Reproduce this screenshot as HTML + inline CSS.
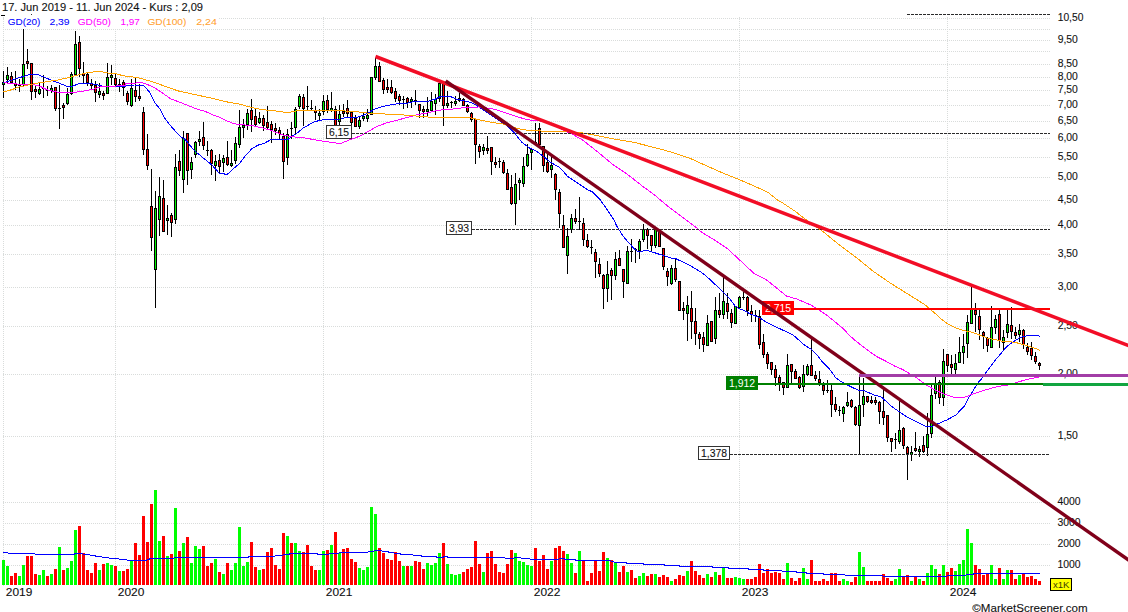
<!DOCTYPE html>
<html><head><meta charset="utf-8"><title>Chart</title>
<style>
html,body{margin:0;padding:0;background:#fff;}
body{width:1128px;height:612px;overflow:hidden;font-family:"Liberation Sans",sans-serif;}
svg{display:block;}
text{font-family:"Liberation Sans",sans-serif;}
.g{stroke:#d9dcdb;stroke-width:1;stroke-dasharray:1 1;fill:none;}
.d{stroke:#2a2a2a;stroke-width:1;stroke-dasharray:3 1;fill:none;}
.ax{font-size:10px;fill:#111;stroke:#111;stroke-width:0.1px;}
.yr{font-size:10.6px;fill:#111;stroke:#111;stroke-width:0.1px;}
.lb{font-size:10px;}
</style></head><body>
<svg width="1128" height="612" viewBox="0 0 1128 612" shape-rendering="crispEdges">
<rect x="0" y="0" width="1128" height="612" fill="#ffffff"/>
<g id="grid">
<path class="g" d="M3 18.5H1050"/>
<path class="g" d="M3 29.5H1050"/>
<path class="g" d="M3 40.5H1050"/>
<path class="g" d="M3 51.5H1050"/>
<path class="g" d="M3 64.5H1050"/>
<path class="g" d="M3 77.5H1050"/>
<path class="g" d="M3 90.5H1050"/>
<path class="g" d="M3 105.5H1050"/>
<path class="g" d="M3 121.5H1050"/>
<path class="g" d="M3 138.5H1050"/>
<path class="g" d="M3 157.5H1050"/>
<path class="g" d="M3 177.5H1050"/>
<path class="g" d="M3 200.5H1050"/>
<path class="g" d="M3 225.5H1050"/>
<path class="g" d="M3 254.5H1050"/>
<path class="g" d="M3 287.5H1050"/>
<path class="g" d="M3 326.5H1050"/>
<path class="g" d="M3 374.5H1050"/>
<path class="g" d="M3 436.5H1050"/>
<path class="g" d="M3 502.5H1050"/>
<path class="g" d="M3 523.5H1050"/>
<path class="g" d="M3 544.5H1050"/>
<path class="g" d="M3 565.5H1050"/>
<path class="g" d="M3.5 17V586"/>
<path class="g" d="M115.5 17V586"/>
<path class="g" d="M323.5 17V586"/>
<path class="g" d="M531.5 17V586"/>
<path class="g" d="M739.5 17V586"/>
<path class="g" d="M947.5 17V586"/>
</g>
<rect x="4" y="15" width="215" height="14" fill="#ffffff"/>
<g shape-rendering="auto">
<text class="ax" x="1057.7" y="21.4" textLength="25.7" lengthAdjust="spacingAndGlyphs">10,50</text>
<text class="ax" x="1057.7" y="43.4" textLength="20.2" lengthAdjust="spacingAndGlyphs">9,50</text>
<text class="ax" x="1057.7" y="67.4" textLength="20.2" lengthAdjust="spacingAndGlyphs">8,50</text>
<text class="ax" x="1057.7" y="80.4" textLength="20.2" lengthAdjust="spacingAndGlyphs">8,00</text>
<text class="ax" x="1057.7" y="93.4" textLength="20.2" lengthAdjust="spacingAndGlyphs">7,50</text>
<text class="ax" x="1057.7" y="108.4" textLength="20.2" lengthAdjust="spacingAndGlyphs">7,00</text>
<text class="ax" x="1057.7" y="124.4" textLength="20.2" lengthAdjust="spacingAndGlyphs">6,50</text>
<text class="ax" x="1057.7" y="141.4" textLength="20.2" lengthAdjust="spacingAndGlyphs">6,00</text>
<text class="ax" x="1057.7" y="160.4" textLength="20.2" lengthAdjust="spacingAndGlyphs">5,50</text>
<text class="ax" x="1057.7" y="180.4" textLength="20.2" lengthAdjust="spacingAndGlyphs">5,00</text>
<text class="ax" x="1057.7" y="203.4" textLength="20.2" lengthAdjust="spacingAndGlyphs">4,50</text>
<text class="ax" x="1057.7" y="228.4" textLength="20.2" lengthAdjust="spacingAndGlyphs">4,00</text>
<text class="ax" x="1057.7" y="257.4" textLength="20.2" lengthAdjust="spacingAndGlyphs">3,50</text>
<text class="ax" x="1057.7" y="290.4" textLength="20.2" lengthAdjust="spacingAndGlyphs">3,00</text>
<text class="ax" x="1057.7" y="329.4" textLength="20.2" lengthAdjust="spacingAndGlyphs">2,50</text>
<text class="ax" x="1057.7" y="377.4" textLength="20.2" lengthAdjust="spacingAndGlyphs">2,00</text>
<text class="ax" x="1057.7" y="439.4" textLength="20.2" lengthAdjust="spacingAndGlyphs">1,50</text>
<text class="ax" x="1057.5" y="505.4" textLength="23.1" lengthAdjust="spacingAndGlyphs">4000</text>
<text class="ax" x="1057.5" y="526.4" textLength="23.1" lengthAdjust="spacingAndGlyphs">3000</text>
<text class="ax" x="1057.5" y="547.4" textLength="23.1" lengthAdjust="spacingAndGlyphs">2000</text>
<text class="ax" x="1057.5" y="568.4" textLength="23.1" lengthAdjust="spacingAndGlyphs">1000</text>
<text class="yr" x="5.8" y="596.4" textLength="26.5" lengthAdjust="spacingAndGlyphs">2019</text>
<text class="yr" x="117.8" y="596.4" textLength="26.5" lengthAdjust="spacingAndGlyphs">2020</text>
<text class="yr" x="325.8" y="596.4" textLength="26.5" lengthAdjust="spacingAndGlyphs">2021</text>
<text class="yr" x="533.8" y="596.4" textLength="26.5" lengthAdjust="spacingAndGlyphs">2022</text>
<text class="yr" x="741.8" y="596.4" textLength="26.5" lengthAdjust="spacingAndGlyphs">2023</text>
<text class="yr" x="949.8" y="596.4" textLength="26.5" lengthAdjust="spacingAndGlyphs">2024</text>
<text x="2" y="11.2" font-size="10.6" fill="#111" stroke="#111" stroke-width="0.1" textLength="201" lengthAdjust="spacingAndGlyphs">17. Jun 2019 - 11. Jun 2024 - Kurs : 2,09</text>
<text x="7.7" y="24.9" font-size="9.6" fill="#0000ff" stroke="#0000ff" stroke-width="0.05" textLength="32.7" lengthAdjust="spacingAndGlyphs">GD(20)</text>
<text x="49.4" y="24.9" font-size="9.6" fill="#0000ff" stroke="#0000ff" stroke-width="0.05" textLength="20.2" lengthAdjust="spacingAndGlyphs">2,39</text>
<text x="77.7" y="24.9" font-size="9.6" fill="#ff00ff" stroke="#ff00ff" stroke-width="0.05" textLength="33.2" lengthAdjust="spacingAndGlyphs">GD(50)</text>
<text x="120.4" y="24.9" font-size="9.6" fill="#ff00ff" stroke="#ff00ff" stroke-width="0.05" textLength="19.4" lengthAdjust="spacingAndGlyphs">1,97</text>
<text x="147.4" y="24.9" font-size="9.6" fill="#ffa030" stroke="#ffa030" stroke-width="0.05" textLength="39" lengthAdjust="spacingAndGlyphs">GD(100)</text>
<text x="196.2" y="24.9" font-size="9.6" fill="#ffa030" stroke="#ffa030" stroke-width="0.05" textLength="20.8" lengthAdjust="spacingAndGlyphs">2,24</text>
<rect x="1050.5" y="578.5" width="21" height="12" fill="#ffff00" stroke="#000" stroke-width="1"/>
<text x="1053" y="588.3" font-size="9.4" fill="#3a3a00" textLength="16.5" lengthAdjust="spacingAndGlyphs">x1K</text>
<text x="972.3" y="612" font-size="10.8" fill="#111" stroke="#111" stroke-width="0.1" textLength="115.3" lengthAdjust="spacingAndGlyphs">©MarketScreener.com</text>
</g>
<g id="vol">
<rect x="2" y="560" width="3" height="25" fill="#00ff00"/>
<rect x="6" y="566" width="3" height="19" fill="#00ff00"/>
<rect x="10" y="576" width="3" height="9" fill="#ff0000"/>
<rect x="14" y="573" width="3" height="12" fill="#ff0000"/>
<rect x="18" y="576" width="3" height="9" fill="#00ff00"/>
<rect x="22" y="565" width="3" height="20" fill="#00ff00"/>
<rect x="26" y="556" width="3" height="29" fill="#ff0000"/>
<rect x="30" y="556" width="3" height="29" fill="#ff0000"/>
<rect x="34" y="574" width="3" height="11" fill="#ff0000"/>
<rect x="38" y="575" width="3" height="10" fill="#00ff00"/>
<rect x="42" y="570" width="3" height="15" fill="#00ff00"/>
<rect x="46" y="576" width="3" height="9" fill="#ff0000"/>
<rect x="50" y="574" width="3" height="11" fill="#00ff00"/>
<rect x="54" y="569" width="3" height="16" fill="#ff0000"/>
<rect x="58" y="547" width="3" height="38" fill="#00ff00"/>
<rect x="62" y="570" width="3" height="15" fill="#ff0000"/>
<rect x="66" y="568" width="3" height="17" fill="#00ff00"/>
<rect x="70" y="561" width="3" height="24" fill="#00ff00"/>
<rect x="74" y="530" width="3" height="55" fill="#00ff00"/>
<rect x="78" y="526" width="3" height="59" fill="#ff0000"/>
<rect x="82" y="553" width="3" height="32" fill="#ff0000"/>
<rect x="86" y="570" width="3" height="15" fill="#ff0000"/>
<rect x="90" y="573" width="3" height="12" fill="#ff0000"/>
<rect x="94" y="563" width="3" height="22" fill="#ff0000"/>
<rect x="98" y="570" width="3" height="15" fill="#00ff00"/>
<rect x="102" y="564" width="3" height="21" fill="#ff0000"/>
<rect x="106" y="563" width="3" height="22" fill="#00ff00"/>
<rect x="110" y="565" width="3" height="20" fill="#00ff00"/>
<rect x="114" y="566" width="3" height="19" fill="#ff0000"/>
<rect x="118" y="571" width="3" height="14" fill="#00ff00"/>
<rect x="122" y="571" width="3" height="14" fill="#ff0000"/>
<rect x="126" y="569" width="3" height="16" fill="#ff0000"/>
<rect x="130" y="560" width="3" height="25" fill="#00ff00"/>
<rect x="134" y="543" width="3" height="42" fill="#ff0000"/>
<rect x="138" y="555" width="3" height="30" fill="#ff0000"/>
<rect x="142" y="516" width="3" height="69" fill="#ff0000"/>
<rect x="146" y="542" width="3" height="43" fill="#ff0000"/>
<rect x="150" y="504" width="3" height="81" fill="#ff0000"/>
<rect x="154" y="490" width="3" height="95" fill="#00ff00"/>
<rect x="158" y="541" width="3" height="44" fill="#00ff00"/>
<rect x="162" y="536" width="3" height="49" fill="#ff0000"/>
<rect x="166" y="556" width="3" height="29" fill="#00ff00"/>
<rect x="170" y="554" width="3" height="31" fill="#ff0000"/>
<rect x="174" y="508" width="3" height="77" fill="#00ff00"/>
<rect x="178" y="551" width="3" height="34" fill="#ff0000"/>
<rect x="182" y="543" width="3" height="42" fill="#00ff00"/>
<rect x="186" y="537" width="3" height="48" fill="#ff0000"/>
<rect x="190" y="563" width="3" height="22" fill="#00ff00"/>
<rect x="194" y="546" width="3" height="39" fill="#00ff00"/>
<rect x="198" y="549" width="3" height="36" fill="#00ff00"/>
<rect x="202" y="546" width="3" height="39" fill="#ff0000"/>
<rect x="206" y="566" width="3" height="19" fill="#ff0000"/>
<rect x="210" y="563" width="3" height="22" fill="#ff0000"/>
<rect x="214" y="559" width="3" height="26" fill="#00ff00"/>
<rect x="218" y="572" width="3" height="13" fill="#ff0000"/>
<rect x="222" y="574" width="3" height="11" fill="#00ff00"/>
<rect x="226" y="563" width="3" height="22" fill="#ff0000"/>
<rect x="230" y="570" width="3" height="15" fill="#00ff00"/>
<rect x="234" y="563" width="3" height="22" fill="#00ff00"/>
<rect x="238" y="527" width="3" height="58" fill="#00ff00"/>
<rect x="242" y="566" width="3" height="19" fill="#00ff00"/>
<rect x="246" y="562" width="3" height="23" fill="#00ff00"/>
<rect x="250" y="542" width="3" height="43" fill="#ff0000"/>
<rect x="254" y="567" width="3" height="18" fill="#ff0000"/>
<rect x="258" y="570" width="3" height="15" fill="#00ff00"/>
<rect x="262" y="569" width="3" height="16" fill="#ff0000"/>
<rect x="266" y="552" width="3" height="33" fill="#ff0000"/>
<rect x="270" y="548" width="3" height="37" fill="#ff0000"/>
<rect x="274" y="565" width="3" height="20" fill="#ff0000"/>
<rect x="278" y="569" width="3" height="16" fill="#ff0000"/>
<rect x="282" y="533" width="3" height="52" fill="#ff0000"/>
<rect x="286" y="536" width="3" height="49" fill="#00ff00"/>
<rect x="290" y="543" width="3" height="42" fill="#ff0000"/>
<rect x="294" y="543" width="3" height="42" fill="#00ff00"/>
<rect x="298" y="551" width="3" height="34" fill="#00ff00"/>
<rect x="302" y="552" width="3" height="33" fill="#ff0000"/>
<rect x="306" y="545" width="3" height="40" fill="#ff0000"/>
<rect x="310" y="566" width="3" height="19" fill="#ff0000"/>
<rect x="314" y="570" width="3" height="15" fill="#ff0000"/>
<rect x="318" y="570" width="3" height="15" fill="#00ff00"/>
<rect x="322" y="551" width="3" height="34" fill="#00ff00"/>
<rect x="326" y="550" width="3" height="35" fill="#ff0000"/>
<rect x="330" y="545" width="3" height="40" fill="#00ff00"/>
<rect x="334" y="532" width="3" height="53" fill="#ff0000"/>
<rect x="338" y="553" width="3" height="32" fill="#00ff00"/>
<rect x="342" y="549" width="3" height="36" fill="#ff0000"/>
<rect x="346" y="548" width="3" height="37" fill="#ff0000"/>
<rect x="350" y="559" width="3" height="26" fill="#ff0000"/>
<rect x="354" y="562" width="3" height="23" fill="#ff0000"/>
<rect x="358" y="568" width="3" height="17" fill="#00ff00"/>
<rect x="362" y="570" width="3" height="15" fill="#00ff00"/>
<rect x="366" y="567" width="3" height="18" fill="#00ff00"/>
<rect x="370" y="507" width="3" height="78" fill="#00ff00"/>
<rect x="374" y="514" width="3" height="71" fill="#00ff00"/>
<rect x="378" y="548" width="3" height="37" fill="#ff0000"/>
<rect x="382" y="553" width="3" height="32" fill="#ff0000"/>
<rect x="386" y="559" width="3" height="26" fill="#ff0000"/>
<rect x="390" y="560" width="3" height="25" fill="#ff0000"/>
<rect x="394" y="552" width="3" height="33" fill="#ff0000"/>
<rect x="398" y="561" width="3" height="24" fill="#ff0000"/>
<rect x="402" y="566" width="3" height="19" fill="#00ff00"/>
<rect x="406" y="566" width="3" height="19" fill="#ff0000"/>
<rect x="410" y="566" width="3" height="19" fill="#00ff00"/>
<rect x="414" y="561" width="3" height="24" fill="#ff0000"/>
<rect x="418" y="562" width="3" height="23" fill="#ff0000"/>
<rect x="422" y="569" width="3" height="16" fill="#ff0000"/>
<rect x="426" y="563" width="3" height="22" fill="#00ff00"/>
<rect x="430" y="565" width="3" height="20" fill="#00ff00"/>
<rect x="434" y="563" width="3" height="22" fill="#00ff00"/>
<rect x="438" y="553" width="3" height="32" fill="#00ff00"/>
<rect x="442" y="543" width="3" height="42" fill="#ff0000"/>
<rect x="446" y="564" width="3" height="21" fill="#00ff00"/>
<rect x="450" y="574" width="3" height="11" fill="#00ff00"/>
<rect x="454" y="575" width="3" height="10" fill="#00ff00"/>
<rect x="458" y="574" width="3" height="11" fill="#00ff00"/>
<rect x="462" y="572" width="3" height="13" fill="#ff0000"/>
<rect x="466" y="569" width="3" height="16" fill="#ff0000"/>
<rect x="470" y="567" width="3" height="18" fill="#ff0000"/>
<rect x="474" y="541" width="3" height="44" fill="#ff0000"/>
<rect x="478" y="564" width="3" height="21" fill="#ff0000"/>
<rect x="482" y="572" width="3" height="13" fill="#00ff00"/>
<rect x="486" y="553" width="3" height="32" fill="#ff0000"/>
<rect x="490" y="551" width="3" height="34" fill="#ff0000"/>
<rect x="494" y="564" width="3" height="21" fill="#ff0000"/>
<rect x="498" y="572" width="3" height="13" fill="#ff0000"/>
<rect x="502" y="573" width="3" height="12" fill="#ff0000"/>
<rect x="506" y="564" width="3" height="21" fill="#ff0000"/>
<rect x="510" y="550" width="3" height="35" fill="#ff0000"/>
<rect x="514" y="553" width="3" height="32" fill="#00ff00"/>
<rect x="518" y="561" width="3" height="24" fill="#00ff00"/>
<rect x="522" y="562" width="3" height="23" fill="#00ff00"/>
<rect x="526" y="565" width="3" height="20" fill="#00ff00"/>
<rect x="530" y="566" width="3" height="19" fill="#00ff00"/>
<rect x="534" y="548" width="3" height="37" fill="#ff0000"/>
<rect x="538" y="561" width="3" height="24" fill="#ff0000"/>
<rect x="542" y="555" width="3" height="30" fill="#ff0000"/>
<rect x="546" y="569" width="3" height="16" fill="#ff0000"/>
<rect x="550" y="561" width="3" height="24" fill="#00ff00"/>
<rect x="554" y="548" width="3" height="37" fill="#ff0000"/>
<rect x="558" y="546" width="3" height="39" fill="#ff0000"/>
<rect x="562" y="551" width="3" height="34" fill="#ff0000"/>
<rect x="566" y="554" width="3" height="31" fill="#00ff00"/>
<rect x="570" y="563" width="3" height="22" fill="#00ff00"/>
<rect x="574" y="573" width="3" height="12" fill="#ff0000"/>
<rect x="578" y="551" width="3" height="34" fill="#00ff00"/>
<rect x="582" y="561" width="3" height="24" fill="#ff0000"/>
<rect x="586" y="581" width="3" height="4" fill="#ff0000"/>
<rect x="590" y="573" width="3" height="12" fill="#ff0000"/>
<rect x="594" y="561" width="3" height="24" fill="#ff0000"/>
<rect x="598" y="571" width="3" height="14" fill="#ff0000"/>
<rect x="602" y="552" width="3" height="33" fill="#ff0000"/>
<rect x="606" y="558" width="3" height="27" fill="#00ff00"/>
<rect x="610" y="560" width="3" height="25" fill="#ff0000"/>
<rect x="614" y="563" width="3" height="22" fill="#00ff00"/>
<rect x="618" y="572" width="3" height="13" fill="#ff0000"/>
<rect x="622" y="566" width="3" height="19" fill="#ff0000"/>
<rect x="626" y="572" width="3" height="13" fill="#00ff00"/>
<rect x="630" y="570" width="3" height="15" fill="#ff0000"/>
<rect x="634" y="578" width="3" height="7" fill="#ff0000"/>
<rect x="638" y="576" width="3" height="9" fill="#00ff00"/>
<rect x="642" y="573" width="3" height="12" fill="#00ff00"/>
<rect x="646" y="576" width="3" height="9" fill="#ff0000"/>
<rect x="650" y="574" width="3" height="11" fill="#ff0000"/>
<rect x="654" y="574" width="3" height="11" fill="#00ff00"/>
<rect x="658" y="577" width="3" height="8" fill="#ff0000"/>
<rect x="662" y="575" width="3" height="10" fill="#ff0000"/>
<rect x="666" y="577" width="3" height="8" fill="#ff0000"/>
<rect x="670" y="581" width="3" height="4" fill="#00ff00"/>
<rect x="674" y="579" width="3" height="6" fill="#ff0000"/>
<rect x="678" y="575" width="3" height="10" fill="#ff0000"/>
<rect x="682" y="576" width="3" height="9" fill="#ff0000"/>
<rect x="686" y="571" width="3" height="14" fill="#00ff00"/>
<rect x="690" y="561" width="3" height="24" fill="#ff0000"/>
<rect x="694" y="571" width="3" height="14" fill="#ff0000"/>
<rect x="698" y="575" width="3" height="10" fill="#ff0000"/>
<rect x="702" y="578" width="3" height="7" fill="#ff0000"/>
<rect x="706" y="574" width="3" height="11" fill="#00ff00"/>
<rect x="710" y="577" width="3" height="8" fill="#ff0000"/>
<rect x="714" y="572" width="3" height="13" fill="#00ff00"/>
<rect x="718" y="575" width="3" height="10" fill="#ff0000"/>
<rect x="722" y="568" width="3" height="17" fill="#00ff00"/>
<rect x="726" y="578" width="3" height="7" fill="#ff0000"/>
<rect x="730" y="578" width="3" height="7" fill="#ff0000"/>
<rect x="734" y="577" width="3" height="8" fill="#00ff00"/>
<rect x="738" y="578" width="3" height="7" fill="#00ff00"/>
<rect x="742" y="579" width="3" height="6" fill="#00ff00"/>
<rect x="746" y="579" width="3" height="6" fill="#ff0000"/>
<rect x="750" y="579" width="3" height="6" fill="#ff0000"/>
<rect x="754" y="577" width="3" height="8" fill="#ff0000"/>
<rect x="758" y="564" width="3" height="21" fill="#ff0000"/>
<rect x="762" y="573" width="3" height="12" fill="#ff0000"/>
<rect x="766" y="569" width="3" height="16" fill="#ff0000"/>
<rect x="770" y="573" width="3" height="12" fill="#ff0000"/>
<rect x="774" y="572" width="3" height="13" fill="#ff0000"/>
<rect x="778" y="573" width="3" height="12" fill="#ff0000"/>
<rect x="782" y="579" width="3" height="6" fill="#ff0000"/>
<rect x="786" y="563" width="3" height="22" fill="#00ff00"/>
<rect x="790" y="578" width="3" height="7" fill="#ff0000"/>
<rect x="794" y="581" width="3" height="4" fill="#ff0000"/>
<rect x="798" y="578" width="3" height="7" fill="#ff0000"/>
<rect x="802" y="568" width="3" height="17" fill="#00ff00"/>
<rect x="806" y="579" width="3" height="6" fill="#00ff00"/>
<rect x="810" y="560" width="3" height="25" fill="#ff0000"/>
<rect x="814" y="581" width="3" height="4" fill="#ff0000"/>
<rect x="818" y="581" width="3" height="4" fill="#ff0000"/>
<rect x="822" y="579" width="3" height="6" fill="#ff0000"/>
<rect x="826" y="581" width="3" height="4" fill="#ff0000"/>
<rect x="830" y="573" width="3" height="12" fill="#ff0000"/>
<rect x="834" y="573" width="3" height="12" fill="#ff0000"/>
<rect x="838" y="581" width="3" height="4" fill="#ff0000"/>
<rect x="842" y="579" width="3" height="6" fill="#00ff00"/>
<rect x="846" y="581" width="3" height="4" fill="#00ff00"/>
<rect x="850" y="582" width="3" height="3" fill="#ff0000"/>
<rect x="854" y="577" width="3" height="8" fill="#ff0000"/>
<rect x="858" y="552" width="3" height="33" fill="#00ff00"/>
<rect x="862" y="567" width="3" height="18" fill="#00ff00"/>
<rect x="866" y="581" width="3" height="4" fill="#ff0000"/>
<rect x="870" y="581" width="3" height="4" fill="#ff0000"/>
<rect x="874" y="581" width="3" height="4" fill="#ff0000"/>
<rect x="878" y="581" width="3" height="4" fill="#ff0000"/>
<rect x="882" y="574" width="3" height="11" fill="#ff0000"/>
<rect x="886" y="578" width="3" height="7" fill="#ff0000"/>
<rect x="890" y="581" width="3" height="4" fill="#ff0000"/>
<rect x="894" y="579" width="3" height="6" fill="#00ff00"/>
<rect x="898" y="569" width="3" height="16" fill="#00ff00"/>
<rect x="902" y="577" width="3" height="8" fill="#ff0000"/>
<rect x="906" y="575" width="3" height="10" fill="#ff0000"/>
<rect x="910" y="581" width="3" height="4" fill="#00ff00"/>
<rect x="914" y="577" width="3" height="8" fill="#ff0000"/>
<rect x="918" y="579" width="3" height="6" fill="#00ff00"/>
<rect x="922" y="581" width="3" height="4" fill="#ff0000"/>
<rect x="926" y="573" width="3" height="12" fill="#00ff00"/>
<rect x="930" y="565" width="3" height="20" fill="#00ff00"/>
<rect x="934" y="569" width="3" height="16" fill="#00ff00"/>
<rect x="938" y="574" width="3" height="11" fill="#ff0000"/>
<rect x="942" y="565" width="3" height="20" fill="#00ff00"/>
<rect x="946" y="572" width="3" height="13" fill="#ff0000"/>
<rect x="950" y="568" width="3" height="17" fill="#ff0000"/>
<rect x="954" y="571" width="3" height="14" fill="#00ff00"/>
<rect x="958" y="564" width="3" height="21" fill="#00ff00"/>
<rect x="962" y="560" width="3" height="25" fill="#00ff00"/>
<rect x="966" y="529" width="3" height="56" fill="#00ff00"/>
<rect x="970" y="543" width="3" height="42" fill="#00ff00"/>
<rect x="974" y="565" width="3" height="20" fill="#ff0000"/>
<rect x="978" y="569" width="3" height="16" fill="#ff0000"/>
<rect x="982" y="575" width="3" height="10" fill="#ff0000"/>
<rect x="986" y="574" width="3" height="11" fill="#ff0000"/>
<rect x="990" y="565" width="3" height="20" fill="#00ff00"/>
<rect x="994" y="579" width="3" height="6" fill="#00ff00"/>
<rect x="998" y="568" width="3" height="17" fill="#ff0000"/>
<rect x="1002" y="579" width="3" height="6" fill="#00ff00"/>
<rect x="1006" y="570" width="3" height="15" fill="#00ff00"/>
<rect x="1010" y="570" width="3" height="15" fill="#ff0000"/>
<rect x="1014" y="579" width="3" height="6" fill="#ff0000"/>
<rect x="1018" y="575" width="3" height="10" fill="#00ff00"/>
<rect x="1022" y="574" width="3" height="11" fill="#ff0000"/>
<rect x="1026" y="577" width="3" height="8" fill="#ff0000"/>
<rect x="1030" y="576" width="3" height="9" fill="#ff0000"/>
<rect x="1034" y="579" width="3" height="6" fill="#ff0000"/>
<rect x="1038" y="581" width="3" height="4" fill="#ff0000"/>
</g>
<polyline points="3.5,552.4 10.0,553.2 33.7,553.2 35.4,554.4 74.0,554.4 75.8,553.2 81.0,553.7 89.3,554.9 96.0,556.1 104.4,557.4 111.2,558.3 119.6,559.1 129.7,560.3 146.5,560.3 149.0,559.1 153.3,558.3 173.5,558.3 176.0,557.4 248.0,557.4 248.8,556.2 275.0,556.2 275.8,555.4 285.0,554.9 293.5,553.2 317.0,553.2 318.0,554.4 328.9,554.4 329.7,553.2 339.0,553.2 339.8,552.4 367.6,552.4 368.4,551.4 373.9,551.4 374.7,550.2 381.5,550.2 382.3,551.4 388.2,551.4 389.0,552.4 393.3,552.4 394.1,553.4 400.0,553.4 400.8,554.4 412.6,554.4 413.5,555.4 421.0,555.4 421.9,556.4 436.2,556.4 437.0,557.4 443.0,557.4 443.8,556.4 447.2,556.4 448.0,557.4 504.4,557.4 505.3,558.4 513.7,558.4 514.5,557.4 520.4,557.4 521.3,558.4 529.7,558.4 530.5,559.3 558.7,559.3 559.6,558.4 563.8,558.4 564.6,559.3 574.7,559.3 575.6,560.3 610.1,560.3 611.0,561.3 613.5,561.3 614.3,562.5 626.1,562.5 627.0,563.5 643.0,563.5 643.8,564.3 664.0,564.3 664.9,565.3 679.2,565.3 680.0,566.4 712.0,566.4 712.9,567.4 728.0,567.4 728.9,568.4 747.8,568.4 748.6,569.2 763.0,569.2 763.8,570.4 781.5,570.4 782.3,571.4 795.8,571.4 796.6,572.4 805.9,572.4 806.7,573.4 822.7,573.4 823.6,574.3 844.6,574.3 845.5,575.5 882.5,575.5 884.2,576.5 946.3,576.5 948.0,575.5 965.7,575.5 966.5,574.3 973.3,574.3 974.1,573.3 1039.8,573.3" fill="none" stroke="#0000ff" stroke-width="1"/>
<g id="candles">
<rect x="3" y="71" width="1" height="27" fill="#000"/><rect x="2" y="82" width="3" height="3" fill="#000"/><rect x="3" y="83" width="1" height="1" fill="#00f400"/>
<rect x="7" y="67" width="1" height="17" fill="#000"/><rect x="6" y="75" width="3" height="5" fill="#000"/><rect x="7" y="76" width="1" height="3" fill="#00f400"/>
<rect x="11" y="72" width="1" height="12" fill="#000"/><rect x="10" y="76" width="3" height="7" fill="#000"/><rect x="11" y="77" width="1" height="5" fill="#ff0000"/>
<rect x="15" y="71" width="1" height="19" fill="#000"/><rect x="14" y="83" width="3" height="3" fill="#000"/><rect x="15" y="84" width="1" height="1" fill="#ff0000"/>
<rect x="19" y="79" width="1" height="13" fill="#000"/><rect x="18" y="85" width="3" height="1" fill="#000"/>
<rect x="23" y="29" width="1" height="57" fill="#000"/><rect x="22" y="64" width="3" height="21" fill="#000"/><rect x="23" y="65" width="1" height="19" fill="#00f400"/>
<rect x="27" y="49" width="1" height="20" fill="#000"/><rect x="26" y="61" width="3" height="3" fill="#000"/><rect x="27" y="62" width="1" height="1" fill="#ff0000"/>
<rect x="31" y="63" width="1" height="37" fill="#000"/><rect x="30" y="63" width="3" height="29" fill="#000"/><rect x="31" y="64" width="1" height="27" fill="#ff0000"/>
<rect x="35" y="86" width="1" height="12" fill="#000"/><rect x="34" y="89" width="3" height="3" fill="#000"/><rect x="35" y="90" width="1" height="1" fill="#ff0000"/>
<rect x="39" y="82" width="1" height="13" fill="#000"/><rect x="38" y="89" width="3" height="5" fill="#000"/><rect x="39" y="90" width="1" height="3" fill="#00f400"/>
<rect x="43" y="75" width="1" height="23" fill="#000"/><rect x="42" y="88" width="3" height="1" fill="#000"/>
<rect x="47" y="86" width="1" height="10" fill="#000"/><rect x="46" y="90" width="3" height="1" fill="#000"/>
<rect x="51" y="85" width="1" height="8" fill="#000"/><rect x="50" y="88" width="3" height="3" fill="#000"/><rect x="51" y="89" width="1" height="1" fill="#00f400"/>
<rect x="55" y="87" width="1" height="24" fill="#000"/><rect x="54" y="87" width="3" height="22" fill="#000"/><rect x="55" y="88" width="1" height="20" fill="#ff0000"/>
<rect x="59" y="85" width="1" height="44" fill="#000"/><rect x="58" y="108" width="3" height="1" fill="#000"/>
<rect x="63" y="103" width="1" height="16" fill="#000"/><rect x="62" y="105" width="3" height="3" fill="#000"/><rect x="63" y="106" width="1" height="1" fill="#ff0000"/>
<rect x="67" y="88" width="1" height="17" fill="#000"/><rect x="66" y="94" width="3" height="10" fill="#000"/><rect x="67" y="95" width="1" height="8" fill="#00f400"/>
<rect x="71" y="72" width="1" height="23" fill="#000"/><rect x="70" y="74" width="3" height="20" fill="#000"/><rect x="71" y="75" width="1" height="18" fill="#00f400"/>
<rect x="75" y="31" width="1" height="45" fill="#000"/><rect x="74" y="44" width="3" height="31" fill="#000"/><rect x="75" y="45" width="1" height="29" fill="#00f400"/>
<rect x="79" y="36" width="1" height="41" fill="#000"/><rect x="78" y="42" width="3" height="27" fill="#000"/><rect x="79" y="43" width="1" height="25" fill="#ff0000"/>
<rect x="83" y="62" width="1" height="21" fill="#000"/><rect x="82" y="73" width="3" height="3" fill="#000"/><rect x="83" y="74" width="1" height="1" fill="#ff0000"/>
<rect x="87" y="72" width="1" height="14" fill="#000"/><rect x="86" y="74" width="3" height="9" fill="#000"/><rect x="87" y="75" width="1" height="7" fill="#ff0000"/>
<rect x="91" y="79" width="1" height="10" fill="#000"/><rect x="90" y="83" width="3" height="3" fill="#000"/><rect x="91" y="84" width="1" height="1" fill="#ff0000"/>
<rect x="95" y="81" width="1" height="21" fill="#000"/><rect x="94" y="85" width="3" height="8" fill="#000"/><rect x="95" y="86" width="1" height="6" fill="#ff0000"/>
<rect x="99" y="83" width="1" height="15" fill="#000"/><rect x="98" y="91" width="3" height="4" fill="#000"/><rect x="99" y="92" width="1" height="2" fill="#00f400"/>
<rect x="103" y="91" width="1" height="9" fill="#000"/><rect x="102" y="93" width="3" height="3" fill="#000"/><rect x="103" y="94" width="1" height="1" fill="#ff0000"/>
<rect x="107" y="63" width="1" height="31" fill="#000"/><rect x="106" y="77" width="3" height="17" fill="#000"/><rect x="107" y="78" width="1" height="15" fill="#00f400"/>
<rect x="111" y="65" width="1" height="20" fill="#000"/><rect x="110" y="75" width="3" height="3" fill="#000"/><rect x="111" y="76" width="1" height="1" fill="#00f400"/>
<rect x="115" y="74" width="1" height="12" fill="#000"/><rect x="114" y="78" width="3" height="7" fill="#000"/><rect x="115" y="79" width="1" height="5" fill="#ff0000"/>
<rect x="119" y="79" width="1" height="13" fill="#000"/><rect x="118" y="84" width="3" height="3" fill="#000"/><rect x="119" y="85" width="1" height="1" fill="#00f400"/>
<rect x="123" y="80" width="1" height="16" fill="#000"/><rect x="122" y="82" width="3" height="6" fill="#000"/><rect x="123" y="83" width="1" height="4" fill="#ff0000"/>
<rect x="127" y="91" width="1" height="14" fill="#000"/><rect x="126" y="93" width="3" height="9" fill="#000"/><rect x="127" y="94" width="1" height="7" fill="#ff0000"/>
<rect x="131" y="79" width="1" height="28" fill="#000"/><rect x="130" y="88" width="3" height="18" fill="#000"/><rect x="131" y="89" width="1" height="16" fill="#00f400"/>
<rect x="135" y="78" width="1" height="24" fill="#000"/><rect x="134" y="90" width="3" height="7" fill="#000"/><rect x="135" y="91" width="1" height="5" fill="#ff0000"/>
<rect x="139" y="84" width="1" height="17" fill="#000"/><rect x="138" y="96" width="3" height="3" fill="#000"/><rect x="139" y="97" width="1" height="1" fill="#ff0000"/>
<rect x="143" y="107" width="1" height="48" fill="#000"/><rect x="142" y="112" width="3" height="38" fill="#000"/><rect x="143" y="113" width="1" height="36" fill="#ff0000"/>
<rect x="147" y="134" width="1" height="36" fill="#000"/><rect x="146" y="149" width="3" height="17" fill="#000"/><rect x="147" y="150" width="1" height="15" fill="#ff0000"/>
<rect x="151" y="169" width="1" height="82" fill="#000"/><rect x="150" y="206" width="3" height="32" fill="#000"/><rect x="151" y="207" width="1" height="30" fill="#ff0000"/>
<rect x="155" y="191" width="1" height="117" fill="#000"/><rect x="154" y="208" width="3" height="62" fill="#000"/><rect x="155" y="209" width="1" height="60" fill="#00f400"/>
<rect x="159" y="177" width="1" height="59" fill="#000"/><rect x="158" y="196" width="3" height="24" fill="#000"/><rect x="159" y="197" width="1" height="22" fill="#00f400"/>
<rect x="163" y="180" width="1" height="52" fill="#000"/><rect x="162" y="198" width="3" height="34" fill="#000"/><rect x="163" y="199" width="1" height="32" fill="#ff0000"/>
<rect x="167" y="205" width="1" height="30" fill="#000"/><rect x="166" y="218" width="3" height="3" fill="#000"/><rect x="167" y="219" width="1" height="1" fill="#00f400"/>
<rect x="171" y="213" width="1" height="24" fill="#000"/><rect x="170" y="215" width="3" height="8" fill="#000"/><rect x="171" y="216" width="1" height="6" fill="#ff0000"/>
<rect x="175" y="154" width="1" height="70" fill="#000"/><rect x="174" y="167" width="3" height="53" fill="#000"/><rect x="175" y="168" width="1" height="51" fill="#00f400"/>
<rect x="179" y="150" width="1" height="26" fill="#000"/><rect x="178" y="161" width="3" height="10" fill="#000"/><rect x="179" y="162" width="1" height="8" fill="#ff0000"/>
<rect x="183" y="131" width="1" height="62" fill="#000"/><rect x="182" y="138" width="3" height="42" fill="#000"/><rect x="183" y="139" width="1" height="40" fill="#00f400"/>
<rect x="187" y="133" width="1" height="52" fill="#000"/><rect x="186" y="133" width="3" height="38" fill="#000"/><rect x="187" y="134" width="1" height="36" fill="#ff0000"/>
<rect x="191" y="157" width="1" height="22" fill="#000"/><rect x="190" y="162" width="3" height="8" fill="#000"/><rect x="191" y="163" width="1" height="6" fill="#00f400"/>
<rect x="195" y="141" width="1" height="17" fill="#000"/><rect x="194" y="142" width="3" height="13" fill="#000"/><rect x="195" y="143" width="1" height="11" fill="#00f400"/>
<rect x="199" y="131" width="1" height="15" fill="#000"/><rect x="198" y="139" width="3" height="3" fill="#000"/><rect x="199" y="140" width="1" height="1" fill="#00f400"/>
<rect x="203" y="122" width="1" height="28" fill="#000"/><rect x="202" y="137" width="3" height="9" fill="#000"/><rect x="203" y="138" width="1" height="7" fill="#ff0000"/>
<rect x="207" y="141" width="1" height="15" fill="#000"/><rect x="206" y="150" width="3" height="1" fill="#000"/>
<rect x="211" y="149" width="1" height="26" fill="#000"/><rect x="210" y="150" width="3" height="14" fill="#000"/><rect x="211" y="151" width="1" height="12" fill="#ff0000"/>
<rect x="215" y="155" width="1" height="26" fill="#000"/><rect x="214" y="161" width="3" height="5" fill="#000"/><rect x="215" y="162" width="1" height="3" fill="#00f400"/>
<rect x="219" y="154" width="1" height="19" fill="#000"/><rect x="218" y="160" width="3" height="7" fill="#000"/><rect x="219" y="161" width="1" height="5" fill="#ff0000"/>
<rect x="223" y="155" width="1" height="17" fill="#000"/><rect x="222" y="158" width="3" height="5" fill="#000"/><rect x="223" y="159" width="1" height="3" fill="#00f400"/>
<rect x="227" y="141" width="1" height="25" fill="#000"/><rect x="226" y="157" width="3" height="8" fill="#000"/><rect x="227" y="158" width="1" height="6" fill="#ff0000"/>
<rect x="231" y="150" width="1" height="17" fill="#000"/><rect x="230" y="163" width="3" height="3" fill="#000"/><rect x="231" y="164" width="1" height="1" fill="#00f400"/>
<rect x="235" y="137" width="1" height="27" fill="#000"/><rect x="234" y="143" width="3" height="18" fill="#000"/><rect x="235" y="144" width="1" height="16" fill="#00f400"/>
<rect x="239" y="110" width="1" height="38" fill="#000"/><rect x="238" y="127" width="3" height="18" fill="#000"/><rect x="239" y="128" width="1" height="16" fill="#00f400"/>
<rect x="243" y="119" width="1" height="19" fill="#000"/><rect x="242" y="125" width="3" height="3" fill="#000"/><rect x="243" y="126" width="1" height="1" fill="#00f400"/>
<rect x="247" y="109" width="1" height="21" fill="#000"/><rect x="246" y="113" width="3" height="12" fill="#000"/><rect x="247" y="114" width="1" height="10" fill="#00f400"/>
<rect x="251" y="99" width="1" height="33" fill="#000"/><rect x="250" y="110" width="3" height="10" fill="#000"/><rect x="251" y="111" width="1" height="8" fill="#ff0000"/>
<rect x="255" y="109" width="1" height="17" fill="#000"/><rect x="254" y="116" width="3" height="9" fill="#000"/><rect x="255" y="117" width="1" height="7" fill="#ff0000"/>
<rect x="259" y="112" width="1" height="12" fill="#000"/><rect x="258" y="118" width="3" height="5" fill="#000"/><rect x="259" y="119" width="1" height="3" fill="#00f400"/>
<rect x="263" y="115" width="1" height="16" fill="#000"/><rect x="262" y="118" width="3" height="8" fill="#000"/><rect x="263" y="119" width="1" height="6" fill="#ff0000"/>
<rect x="267" y="106" width="1" height="23" fill="#000"/><rect x="266" y="122" width="3" height="6" fill="#000"/><rect x="267" y="123" width="1" height="4" fill="#ff0000"/>
<rect x="271" y="121" width="1" height="22" fill="#000"/><rect x="270" y="124" width="3" height="6" fill="#000"/><rect x="271" y="125" width="1" height="4" fill="#ff0000"/>
<rect x="275" y="123" width="1" height="12" fill="#000"/><rect x="274" y="128" width="3" height="3" fill="#000"/><rect x="275" y="129" width="1" height="1" fill="#ff0000"/>
<rect x="279" y="127" width="1" height="12" fill="#000"/><rect x="278" y="130" width="3" height="4" fill="#000"/><rect x="279" y="131" width="1" height="2" fill="#ff0000"/>
<rect x="283" y="133" width="1" height="46" fill="#000"/><rect x="282" y="136" width="3" height="26" fill="#000"/><rect x="283" y="137" width="1" height="24" fill="#ff0000"/>
<rect x="287" y="129" width="1" height="36" fill="#000"/><rect x="286" y="134" width="3" height="24" fill="#000"/><rect x="287" y="135" width="1" height="22" fill="#00f400"/>
<rect x="291" y="122" width="1" height="17" fill="#000"/><rect x="290" y="128" width="3" height="1" fill="#000"/>
<rect x="295" y="107" width="1" height="27" fill="#000"/><rect x="294" y="109" width="3" height="19" fill="#000"/><rect x="295" y="110" width="1" height="17" fill="#00f400"/>
<rect x="299" y="94" width="1" height="15" fill="#000"/><rect x="298" y="96" width="3" height="11" fill="#000"/><rect x="299" y="97" width="1" height="9" fill="#00f400"/>
<rect x="303" y="94" width="1" height="32" fill="#000"/><rect x="302" y="97" width="3" height="12" fill="#000"/><rect x="303" y="98" width="1" height="10" fill="#ff0000"/>
<rect x="307" y="86" width="1" height="24" fill="#000"/><rect x="306" y="106" width="3" height="1" fill="#000"/>
<rect x="311" y="100" width="1" height="10" fill="#000"/><rect x="310" y="108" width="3" height="1" fill="#000"/>
<rect x="315" y="106" width="1" height="14" fill="#000"/><rect x="314" y="110" width="3" height="3" fill="#000"/><rect x="315" y="111" width="1" height="1" fill="#ff0000"/>
<rect x="319" y="109" width="1" height="12" fill="#000"/><rect x="318" y="113" width="3" height="3" fill="#000"/><rect x="319" y="114" width="1" height="1" fill="#00f400"/>
<rect x="323" y="95" width="1" height="20" fill="#000"/><rect x="322" y="101" width="3" height="11" fill="#000"/><rect x="323" y="102" width="1" height="9" fill="#00f400"/>
<rect x="327" y="95" width="1" height="18" fill="#000"/><rect x="326" y="100" width="3" height="10" fill="#000"/><rect x="327" y="101" width="1" height="8" fill="#ff0000"/>
<rect x="331" y="92" width="1" height="20" fill="#000"/><rect x="330" y="108" width="3" height="3" fill="#000"/><rect x="331" y="109" width="1" height="1" fill="#00f400"/>
<rect x="335" y="106" width="1" height="27" fill="#000"/><rect x="334" y="109" width="3" height="21" fill="#000"/><rect x="335" y="110" width="1" height="19" fill="#ff0000"/>
<rect x="339" y="105" width="1" height="23" fill="#000"/><rect x="338" y="114" width="3" height="8" fill="#000"/><rect x="339" y="115" width="1" height="6" fill="#00f400"/>
<rect x="343" y="104" width="1" height="13" fill="#000"/><rect x="342" y="111" width="3" height="3" fill="#000"/><rect x="343" y="112" width="1" height="1" fill="#ff0000"/>
<rect x="347" y="100" width="1" height="18" fill="#000"/><rect x="346" y="108" width="3" height="6" fill="#000"/><rect x="347" y="109" width="1" height="4" fill="#ff0000"/>
<rect x="351" y="112" width="1" height="16" fill="#000"/><rect x="350" y="112" width="3" height="11" fill="#000"/><rect x="351" y="113" width="1" height="9" fill="#ff0000"/>
<rect x="355" y="115" width="1" height="12" fill="#000"/><rect x="354" y="118" width="3" height="9" fill="#000"/><rect x="355" y="119" width="1" height="7" fill="#ff0000"/>
<rect x="359" y="117" width="1" height="12" fill="#000"/><rect x="358" y="120" width="3" height="7" fill="#000"/><rect x="359" y="121" width="1" height="5" fill="#00f400"/>
<rect x="363" y="113" width="1" height="8" fill="#000"/><rect x="362" y="116" width="3" height="3" fill="#000"/><rect x="363" y="117" width="1" height="1" fill="#00f400"/>
<rect x="367" y="109" width="1" height="13" fill="#000"/><rect x="366" y="115" width="3" height="4" fill="#000"/><rect x="367" y="116" width="1" height="2" fill="#00f400"/>
<rect x="371" y="77" width="1" height="38" fill="#000"/><rect x="370" y="77" width="3" height="38" fill="#000"/><rect x="371" y="78" width="1" height="36" fill="#00f400"/>
<rect x="375" y="58" width="1" height="22" fill="#000"/><rect x="374" y="66" width="3" height="12" fill="#000"/><rect x="375" y="67" width="1" height="10" fill="#00f400"/>
<rect x="379" y="62" width="1" height="20" fill="#000"/><rect x="378" y="66" width="3" height="16" fill="#000"/><rect x="379" y="67" width="1" height="14" fill="#ff0000"/>
<rect x="383" y="78" width="1" height="16" fill="#000"/><rect x="382" y="80" width="3" height="10" fill="#000"/><rect x="383" y="81" width="1" height="8" fill="#ff0000"/>
<rect x="387" y="79" width="1" height="14" fill="#000"/><rect x="386" y="87" width="3" height="3" fill="#000"/><rect x="387" y="88" width="1" height="1" fill="#ff0000"/>
<rect x="391" y="80" width="1" height="14" fill="#000"/><rect x="390" y="87" width="3" height="6" fill="#000"/><rect x="391" y="88" width="1" height="4" fill="#ff0000"/>
<rect x="395" y="88" width="1" height="14" fill="#000"/><rect x="394" y="91" width="3" height="8" fill="#000"/><rect x="395" y="92" width="1" height="6" fill="#ff0000"/>
<rect x="399" y="94" width="1" height="11" fill="#000"/><rect x="398" y="96" width="3" height="5" fill="#000"/><rect x="399" y="97" width="1" height="3" fill="#ff0000"/>
<rect x="403" y="96" width="1" height="13" fill="#000"/><rect x="402" y="99" width="3" height="1" fill="#000"/>
<rect x="407" y="97" width="1" height="11" fill="#000"/><rect x="406" y="98" width="3" height="5" fill="#000"/><rect x="407" y="99" width="1" height="3" fill="#ff0000"/>
<rect x="411" y="97" width="1" height="11" fill="#000"/><rect x="410" y="99" width="3" height="3" fill="#000"/><rect x="411" y="100" width="1" height="1" fill="#00f400"/>
<rect x="415" y="90" width="1" height="15" fill="#000"/><rect x="414" y="100" width="3" height="1" fill="#000"/>
<rect x="419" y="104" width="1" height="14" fill="#000"/><rect x="418" y="104" width="3" height="7" fill="#000"/><rect x="419" y="105" width="1" height="5" fill="#ff0000"/>
<rect x="423" y="106" width="1" height="12" fill="#000"/><rect x="422" y="109" width="3" height="3" fill="#000"/><rect x="423" y="110" width="1" height="1" fill="#ff0000"/>
<rect x="427" y="97" width="1" height="19" fill="#000"/><rect x="426" y="109" width="3" height="3" fill="#000"/><rect x="427" y="110" width="1" height="1" fill="#00f400"/>
<rect x="431" y="92" width="1" height="19" fill="#000"/><rect x="430" y="101" width="3" height="10" fill="#000"/><rect x="431" y="102" width="1" height="8" fill="#00f400"/>
<rect x="435" y="94" width="1" height="21" fill="#000"/><rect x="434" y="99" width="3" height="5" fill="#000"/><rect x="435" y="100" width="1" height="3" fill="#00f400"/>
<rect x="439" y="83" width="1" height="19" fill="#000"/><rect x="438" y="83" width="3" height="16" fill="#000"/><rect x="439" y="84" width="1" height="14" fill="#00f400"/>
<rect x="443" y="81" width="1" height="45" fill="#000"/><rect x="442" y="83" width="3" height="23" fill="#000"/><rect x="443" y="84" width="1" height="21" fill="#ff0000"/>
<rect x="447" y="91" width="1" height="17" fill="#000"/><rect x="446" y="103" width="3" height="3" fill="#000"/><rect x="447" y="104" width="1" height="1" fill="#00f400"/>
<rect x="451" y="101" width="1" height="7" fill="#000"/><rect x="450" y="102" width="3" height="1" fill="#000"/>
<rect x="455" y="96" width="1" height="10" fill="#000"/><rect x="454" y="101" width="3" height="3" fill="#000"/><rect x="455" y="102" width="1" height="1" fill="#00f400"/>
<rect x="459" y="93" width="1" height="9" fill="#000"/><rect x="458" y="98" width="3" height="3" fill="#000"/><rect x="459" y="99" width="1" height="1" fill="#00f400"/>
<rect x="463" y="98" width="1" height="8" fill="#000"/><rect x="462" y="99" width="3" height="7" fill="#000"/><rect x="463" y="100" width="1" height="5" fill="#ff0000"/>
<rect x="467" y="104" width="1" height="9" fill="#000"/><rect x="466" y="105" width="3" height="7" fill="#000"/><rect x="467" y="106" width="1" height="5" fill="#ff0000"/>
<rect x="471" y="112" width="1" height="10" fill="#000"/><rect x="470" y="113" width="3" height="7" fill="#000"/><rect x="471" y="114" width="1" height="5" fill="#ff0000"/>
<rect x="475" y="118" width="1" height="46" fill="#000"/><rect x="474" y="119" width="3" height="26" fill="#000"/><rect x="475" y="120" width="1" height="24" fill="#ff0000"/>
<rect x="479" y="144" width="1" height="14" fill="#000"/><rect x="478" y="146" width="3" height="6" fill="#000"/><rect x="479" y="147" width="1" height="4" fill="#ff0000"/>
<rect x="483" y="144" width="1" height="11" fill="#000"/><rect x="482" y="147" width="3" height="4" fill="#000"/><rect x="483" y="148" width="1" height="2" fill="#00f400"/>
<rect x="487" y="136" width="1" height="18" fill="#000"/><rect x="486" y="148" width="3" height="3" fill="#000"/><rect x="487" y="149" width="1" height="1" fill="#ff0000"/>
<rect x="491" y="147" width="1" height="28" fill="#000"/><rect x="490" y="147" width="3" height="15" fill="#000"/><rect x="491" y="148" width="1" height="13" fill="#ff0000"/>
<rect x="495" y="157" width="1" height="11" fill="#000"/><rect x="494" y="162" width="3" height="3" fill="#000"/><rect x="495" y="163" width="1" height="1" fill="#ff0000"/>
<rect x="499" y="158" width="1" height="10" fill="#000"/><rect x="498" y="161" width="3" height="1" fill="#000"/>
<rect x="503" y="160" width="1" height="14" fill="#000"/><rect x="502" y="162" width="3" height="11" fill="#000"/><rect x="503" y="163" width="1" height="9" fill="#ff0000"/>
<rect x="507" y="169" width="1" height="21" fill="#000"/><rect x="506" y="173" width="3" height="17" fill="#000"/><rect x="507" y="174" width="1" height="15" fill="#ff0000"/>
<rect x="511" y="175" width="1" height="30" fill="#000"/><rect x="510" y="187" width="3" height="17" fill="#000"/><rect x="511" y="188" width="1" height="15" fill="#ff0000"/>
<rect x="515" y="173" width="1" height="52" fill="#000"/><rect x="514" y="184" width="3" height="20" fill="#000"/><rect x="515" y="185" width="1" height="18" fill="#00f400"/>
<rect x="519" y="178" width="1" height="22" fill="#000"/><rect x="518" y="180" width="3" height="3" fill="#000"/><rect x="519" y="181" width="1" height="1" fill="#00f400"/>
<rect x="523" y="157" width="1" height="30" fill="#000"/><rect x="522" y="166" width="3" height="18" fill="#000"/><rect x="523" y="167" width="1" height="16" fill="#00f400"/>
<rect x="527" y="144" width="1" height="23" fill="#000"/><rect x="526" y="154" width="3" height="12" fill="#000"/><rect x="527" y="155" width="1" height="10" fill="#00f400"/>
<rect x="531" y="148" width="1" height="22" fill="#000"/><rect x="530" y="149" width="3" height="4" fill="#000"/><rect x="531" y="150" width="1" height="2" fill="#00f400"/>
<rect x="535" y="123" width="1" height="20" fill="#000"/><rect x="534" y="142" width="3" height="1" fill="#000"/>
<rect x="539" y="123" width="1" height="22" fill="#000"/><rect x="538" y="128" width="3" height="17" fill="#000"/><rect x="539" y="129" width="1" height="15" fill="#ff0000"/>
<rect x="543" y="146" width="1" height="26" fill="#000"/><rect x="542" y="146" width="3" height="20" fill="#000"/><rect x="543" y="147" width="1" height="18" fill="#ff0000"/>
<rect x="547" y="154" width="1" height="19" fill="#000"/><rect x="546" y="162" width="3" height="10" fill="#000"/><rect x="547" y="163" width="1" height="8" fill="#ff0000"/>
<rect x="551" y="157" width="1" height="21" fill="#000"/><rect x="550" y="165" width="3" height="5" fill="#000"/><rect x="551" y="166" width="1" height="3" fill="#00f400"/>
<rect x="555" y="173" width="1" height="27" fill="#000"/><rect x="554" y="174" width="3" height="16" fill="#000"/><rect x="555" y="175" width="1" height="14" fill="#ff0000"/>
<rect x="559" y="189" width="1" height="39" fill="#000"/><rect x="558" y="192" width="3" height="22" fill="#000"/><rect x="559" y="193" width="1" height="20" fill="#ff0000"/>
<rect x="563" y="215" width="1" height="33" fill="#000"/><rect x="562" y="225" width="3" height="23" fill="#000"/><rect x="563" y="226" width="1" height="21" fill="#ff0000"/>
<rect x="567" y="228" width="1" height="46" fill="#000"/><rect x="566" y="236" width="3" height="20" fill="#000"/><rect x="567" y="237" width="1" height="18" fill="#00f400"/>
<rect x="571" y="214" width="1" height="19" fill="#000"/><rect x="570" y="218" width="3" height="12" fill="#000"/><rect x="571" y="219" width="1" height="10" fill="#00f400"/>
<rect x="575" y="209" width="1" height="15" fill="#000"/><rect x="574" y="218" width="3" height="4" fill="#000"/><rect x="575" y="219" width="1" height="2" fill="#ff0000"/>
<rect x="579" y="197" width="1" height="33" fill="#000"/><rect x="578" y="221" width="3" height="1" fill="#000"/>
<rect x="583" y="218" width="1" height="28" fill="#000"/><rect x="582" y="223" width="3" height="17" fill="#000"/><rect x="583" y="224" width="1" height="15" fill="#ff0000"/>
<rect x="587" y="234" width="1" height="14" fill="#000"/><rect x="586" y="240" width="3" height="7" fill="#000"/><rect x="587" y="241" width="1" height="5" fill="#ff0000"/>
<rect x="591" y="240" width="1" height="14" fill="#000"/><rect x="590" y="247" width="3" height="1" fill="#000"/>
<rect x="595" y="249" width="1" height="29" fill="#000"/><rect x="594" y="252" width="3" height="10" fill="#000"/><rect x="595" y="253" width="1" height="8" fill="#ff0000"/>
<rect x="599" y="258" width="1" height="19" fill="#000"/><rect x="598" y="264" width="3" height="10" fill="#000"/><rect x="599" y="265" width="1" height="8" fill="#ff0000"/>
<rect x="603" y="274" width="1" height="35" fill="#000"/><rect x="602" y="275" width="3" height="14" fill="#000"/><rect x="603" y="276" width="1" height="12" fill="#ff0000"/>
<rect x="607" y="261" width="1" height="41" fill="#000"/><rect x="606" y="274" width="3" height="15" fill="#000"/><rect x="607" y="275" width="1" height="13" fill="#00f400"/>
<rect x="611" y="268" width="1" height="32" fill="#000"/><rect x="610" y="270" width="3" height="6" fill="#000"/><rect x="611" y="271" width="1" height="4" fill="#ff0000"/>
<rect x="615" y="252" width="1" height="28" fill="#000"/><rect x="614" y="259" width="3" height="17" fill="#000"/><rect x="615" y="260" width="1" height="15" fill="#00f400"/>
<rect x="619" y="250" width="1" height="16" fill="#000"/><rect x="618" y="258" width="3" height="8" fill="#000"/><rect x="619" y="259" width="1" height="6" fill="#ff0000"/>
<rect x="623" y="269" width="1" height="29" fill="#000"/><rect x="622" y="269" width="3" height="13" fill="#000"/><rect x="623" y="270" width="1" height="11" fill="#ff0000"/>
<rect x="627" y="246" width="1" height="38" fill="#000"/><rect x="626" y="251" width="3" height="33" fill="#000"/><rect x="627" y="252" width="1" height="31" fill="#00f400"/>
<rect x="631" y="239" width="1" height="23" fill="#000"/><rect x="630" y="251" width="3" height="1" fill="#000"/>
<rect x="635" y="248" width="1" height="15" fill="#000"/><rect x="634" y="249" width="3" height="1" fill="#000"/>
<rect x="639" y="239" width="1" height="20" fill="#000"/><rect x="638" y="241" width="3" height="10" fill="#000"/><rect x="639" y="242" width="1" height="8" fill="#00f400"/>
<rect x="643" y="224" width="1" height="18" fill="#000"/><rect x="642" y="229" width="3" height="11" fill="#000"/><rect x="643" y="230" width="1" height="9" fill="#00f400"/>
<rect x="647" y="228" width="1" height="21" fill="#000"/><rect x="646" y="229" width="3" height="7" fill="#000"/><rect x="647" y="230" width="1" height="5" fill="#ff0000"/>
<rect x="651" y="235" width="1" height="17" fill="#000"/><rect x="650" y="235" width="3" height="11" fill="#000"/><rect x="651" y="236" width="1" height="9" fill="#ff0000"/>
<rect x="655" y="228" width="1" height="20" fill="#000"/><rect x="654" y="229" width="3" height="17" fill="#000"/><rect x="655" y="230" width="1" height="15" fill="#00f400"/>
<rect x="659" y="229" width="1" height="18" fill="#000"/><rect x="658" y="231" width="3" height="16" fill="#000"/><rect x="659" y="232" width="1" height="14" fill="#ff0000"/>
<rect x="663" y="248" width="1" height="22" fill="#000"/><rect x="662" y="248" width="3" height="19" fill="#000"/><rect x="663" y="249" width="1" height="17" fill="#ff0000"/>
<rect x="667" y="268" width="1" height="18" fill="#000"/><rect x="666" y="271" width="3" height="6" fill="#000"/><rect x="667" y="272" width="1" height="4" fill="#ff0000"/>
<rect x="671" y="265" width="1" height="20" fill="#000"/><rect x="670" y="268" width="3" height="16" fill="#000"/><rect x="671" y="269" width="1" height="14" fill="#00f400"/>
<rect x="675" y="259" width="1" height="23" fill="#000"/><rect x="674" y="268" width="3" height="12" fill="#000"/><rect x="675" y="269" width="1" height="10" fill="#ff0000"/>
<rect x="679" y="281" width="1" height="30" fill="#000"/><rect x="678" y="281" width="3" height="30" fill="#000"/><rect x="679" y="282" width="1" height="28" fill="#ff0000"/>
<rect x="683" y="302" width="1" height="18" fill="#000"/><rect x="682" y="308" width="3" height="3" fill="#000"/><rect x="683" y="309" width="1" height="1" fill="#ff0000"/>
<rect x="687" y="296" width="1" height="45" fill="#000"/><rect x="686" y="305" width="3" height="9" fill="#000"/><rect x="687" y="306" width="1" height="7" fill="#00f400"/>
<rect x="691" y="291" width="1" height="48" fill="#000"/><rect x="690" y="308" width="3" height="14" fill="#000"/><rect x="691" y="309" width="1" height="12" fill="#ff0000"/>
<rect x="695" y="308" width="1" height="37" fill="#000"/><rect x="694" y="321" width="3" height="13" fill="#000"/><rect x="695" y="322" width="1" height="11" fill="#ff0000"/>
<rect x="699" y="332" width="1" height="17" fill="#000"/><rect x="698" y="334" width="3" height="5" fill="#000"/><rect x="699" y="335" width="1" height="3" fill="#ff0000"/>
<rect x="703" y="332" width="1" height="20" fill="#000"/><rect x="702" y="337" width="3" height="8" fill="#000"/><rect x="703" y="338" width="1" height="6" fill="#ff0000"/>
<rect x="707" y="315" width="1" height="31" fill="#000"/><rect x="706" y="323" width="3" height="23" fill="#000"/><rect x="707" y="324" width="1" height="21" fill="#00f400"/>
<rect x="711" y="321" width="1" height="21" fill="#000"/><rect x="710" y="321" width="3" height="21" fill="#000"/><rect x="711" y="322" width="1" height="19" fill="#ff0000"/>
<rect x="715" y="297" width="1" height="47" fill="#000"/><rect x="714" y="310" width="3" height="29" fill="#000"/><rect x="715" y="311" width="1" height="27" fill="#00f400"/>
<rect x="719" y="293" width="1" height="25" fill="#000"/><rect x="718" y="310" width="3" height="5" fill="#000"/><rect x="719" y="311" width="1" height="3" fill="#ff0000"/>
<rect x="723" y="276" width="1" height="43" fill="#000"/><rect x="722" y="301" width="3" height="14" fill="#000"/><rect x="723" y="302" width="1" height="12" fill="#00f400"/>
<rect x="727" y="293" width="1" height="26" fill="#000"/><rect x="726" y="303" width="3" height="9" fill="#000"/><rect x="727" y="304" width="1" height="7" fill="#ff0000"/>
<rect x="731" y="309" width="1" height="19" fill="#000"/><rect x="730" y="313" width="3" height="10" fill="#000"/><rect x="731" y="314" width="1" height="8" fill="#ff0000"/>
<rect x="735" y="306" width="1" height="18" fill="#000"/><rect x="734" y="306" width="3" height="18" fill="#000"/><rect x="735" y="307" width="1" height="16" fill="#00f400"/>
<rect x="739" y="296" width="1" height="12" fill="#000"/><rect x="738" y="297" width="3" height="11" fill="#000"/><rect x="739" y="298" width="1" height="9" fill="#00f400"/>
<rect x="743" y="292" width="1" height="8" fill="#000"/><rect x="742" y="297" width="3" height="1" fill="#000"/>
<rect x="747" y="296" width="1" height="20" fill="#000"/><rect x="746" y="297" width="3" height="14" fill="#000"/><rect x="747" y="298" width="1" height="12" fill="#ff0000"/>
<rect x="751" y="305" width="1" height="17" fill="#000"/><rect x="750" y="311" width="3" height="4" fill="#000"/><rect x="751" y="312" width="1" height="2" fill="#ff0000"/>
<rect x="755" y="310" width="1" height="12" fill="#000"/><rect x="754" y="315" width="3" height="1" fill="#000"/>
<rect x="759" y="310" width="1" height="39" fill="#000"/><rect x="758" y="316" width="3" height="29" fill="#000"/><rect x="759" y="317" width="1" height="27" fill="#ff0000"/>
<rect x="763" y="334" width="1" height="24" fill="#000"/><rect x="762" y="342" width="3" height="13" fill="#000"/><rect x="763" y="343" width="1" height="11" fill="#ff0000"/>
<rect x="767" y="352" width="1" height="17" fill="#000"/><rect x="766" y="354" width="3" height="10" fill="#000"/><rect x="767" y="355" width="1" height="8" fill="#ff0000"/>
<rect x="771" y="362" width="1" height="13" fill="#000"/><rect x="770" y="362" width="3" height="8" fill="#000"/><rect x="771" y="363" width="1" height="6" fill="#ff0000"/>
<rect x="775" y="365" width="1" height="21" fill="#000"/><rect x="774" y="369" width="3" height="9" fill="#000"/><rect x="775" y="370" width="1" height="7" fill="#ff0000"/>
<rect x="779" y="375" width="1" height="16" fill="#000"/><rect x="778" y="377" width="3" height="6" fill="#000"/><rect x="779" y="378" width="1" height="4" fill="#ff0000"/>
<rect x="783" y="382" width="1" height="13" fill="#000"/><rect x="782" y="382" width="3" height="6" fill="#000"/><rect x="783" y="383" width="1" height="4" fill="#ff0000"/>
<rect x="787" y="354" width="1" height="34" fill="#000"/><rect x="786" y="365" width="3" height="23" fill="#000"/><rect x="787" y="366" width="1" height="21" fill="#00f400"/>
<rect x="791" y="364" width="1" height="19" fill="#000"/><rect x="790" y="364" width="3" height="8" fill="#000"/><rect x="791" y="365" width="1" height="6" fill="#ff0000"/>
<rect x="795" y="369" width="1" height="10" fill="#000"/><rect x="794" y="371" width="3" height="8" fill="#000"/><rect x="795" y="372" width="1" height="6" fill="#ff0000"/>
<rect x="799" y="376" width="1" height="13" fill="#000"/><rect x="798" y="377" width="3" height="11" fill="#000"/><rect x="799" y="378" width="1" height="9" fill="#ff0000"/>
<rect x="803" y="365" width="1" height="27" fill="#000"/><rect x="802" y="374" width="3" height="13" fill="#000"/><rect x="803" y="375" width="1" height="11" fill="#00f400"/>
<rect x="807" y="364" width="1" height="12" fill="#000"/><rect x="806" y="366" width="3" height="9" fill="#000"/><rect x="807" y="367" width="1" height="7" fill="#00f400"/>
<rect x="811" y="339" width="1" height="37" fill="#000"/><rect x="810" y="365" width="3" height="11" fill="#000"/><rect x="811" y="366" width="1" height="9" fill="#ff0000"/>
<rect x="815" y="371" width="1" height="10" fill="#000"/><rect x="814" y="375" width="3" height="4" fill="#000"/><rect x="815" y="376" width="1" height="2" fill="#ff0000"/>
<rect x="819" y="371" width="1" height="15" fill="#000"/><rect x="818" y="379" width="3" height="4" fill="#000"/><rect x="819" y="380" width="1" height="2" fill="#ff0000"/>
<rect x="823" y="382" width="1" height="13" fill="#000"/><rect x="822" y="385" width="3" height="6" fill="#000"/><rect x="823" y="386" width="1" height="4" fill="#ff0000"/>
<rect x="827" y="380" width="1" height="13" fill="#000"/><rect x="826" y="390" width="3" height="1" fill="#000"/>
<rect x="831" y="385" width="1" height="32" fill="#000"/><rect x="830" y="390" width="3" height="15" fill="#000"/><rect x="831" y="391" width="1" height="13" fill="#ff0000"/>
<rect x="835" y="397" width="1" height="15" fill="#000"/><rect x="834" y="404" width="3" height="6" fill="#000"/><rect x="835" y="405" width="1" height="4" fill="#ff0000"/>
<rect x="839" y="406" width="1" height="10" fill="#000"/><rect x="838" y="410" width="3" height="1" fill="#000"/>
<rect x="843" y="406" width="1" height="16" fill="#000"/><rect x="842" y="407" width="3" height="7" fill="#000"/><rect x="843" y="408" width="1" height="5" fill="#00f400"/>
<rect x="847" y="392" width="1" height="15" fill="#000"/><rect x="846" y="402" width="3" height="4" fill="#000"/><rect x="847" y="403" width="1" height="2" fill="#00f400"/>
<rect x="851" y="399" width="1" height="9" fill="#000"/><rect x="850" y="400" width="3" height="7" fill="#000"/><rect x="851" y="401" width="1" height="5" fill="#ff0000"/>
<rect x="855" y="406" width="1" height="20" fill="#000"/><rect x="854" y="407" width="3" height="18" fill="#000"/><rect x="855" y="408" width="1" height="16" fill="#ff0000"/>
<rect x="859" y="374" width="1" height="80" fill="#000"/><rect x="858" y="405" width="3" height="21" fill="#000"/><rect x="859" y="406" width="1" height="19" fill="#00f400"/>
<rect x="863" y="378" width="1" height="39" fill="#000"/><rect x="862" y="396" width="3" height="9" fill="#000"/><rect x="863" y="397" width="1" height="7" fill="#00f400"/>
<rect x="867" y="396" width="1" height="7" fill="#000"/><rect x="866" y="396" width="3" height="6" fill="#000"/><rect x="867" y="397" width="1" height="4" fill="#ff0000"/>
<rect x="871" y="396" width="1" height="8" fill="#000"/><rect x="870" y="400" width="3" height="3" fill="#000"/><rect x="871" y="401" width="1" height="1" fill="#ff0000"/>
<rect x="875" y="397" width="1" height="8" fill="#000"/><rect x="874" y="400" width="3" height="3" fill="#000"/><rect x="875" y="401" width="1" height="1" fill="#ff0000"/>
<rect x="879" y="401" width="1" height="23" fill="#000"/><rect x="878" y="402" width="3" height="10" fill="#000"/><rect x="879" y="403" width="1" height="8" fill="#ff0000"/>
<rect x="883" y="389" width="1" height="36" fill="#000"/><rect x="882" y="411" width="3" height="7" fill="#000"/><rect x="883" y="412" width="1" height="5" fill="#ff0000"/>
<rect x="887" y="415" width="1" height="27" fill="#000"/><rect x="886" y="415" width="3" height="23" fill="#000"/><rect x="887" y="416" width="1" height="21" fill="#ff0000"/>
<rect x="891" y="438" width="1" height="14" fill="#000"/><rect x="890" y="438" width="3" height="4" fill="#000"/><rect x="891" y="439" width="1" height="2" fill="#ff0000"/>
<rect x="895" y="433" width="1" height="16" fill="#000"/><rect x="894" y="439" width="3" height="1" fill="#000"/>
<rect x="899" y="398" width="1" height="46" fill="#000"/><rect x="898" y="430" width="3" height="12" fill="#000"/><rect x="899" y="431" width="1" height="10" fill="#00f400"/>
<rect x="903" y="427" width="1" height="22" fill="#000"/><rect x="902" y="428" width="3" height="18" fill="#000"/><rect x="903" y="429" width="1" height="16" fill="#ff0000"/>
<rect x="907" y="446" width="1" height="34" fill="#000"/><rect x="906" y="447" width="3" height="7" fill="#000"/><rect x="907" y="448" width="1" height="5" fill="#ff0000"/>
<rect x="911" y="446" width="1" height="15" fill="#000"/><rect x="910" y="452" width="3" height="3" fill="#000"/><rect x="911" y="453" width="1" height="1" fill="#00f400"/>
<rect x="915" y="432" width="1" height="20" fill="#000"/><rect x="914" y="448" width="3" height="3" fill="#000"/><rect x="915" y="449" width="1" height="1" fill="#ff0000"/>
<rect x="919" y="446" width="1" height="11" fill="#000"/><rect x="918" y="449" width="3" height="3" fill="#000"/><rect x="919" y="450" width="1" height="1" fill="#00f400"/>
<rect x="923" y="436" width="1" height="17" fill="#000"/><rect x="922" y="445" width="3" height="7" fill="#000"/><rect x="923" y="446" width="1" height="5" fill="#ff0000"/>
<rect x="927" y="413" width="1" height="43" fill="#000"/><rect x="926" y="434" width="3" height="14" fill="#000"/><rect x="927" y="435" width="1" height="12" fill="#00f400"/>
<rect x="931" y="385" width="1" height="53" fill="#000"/><rect x="930" y="395" width="3" height="39" fill="#000"/><rect x="931" y="396" width="1" height="37" fill="#00f400"/>
<rect x="935" y="377" width="1" height="22" fill="#000"/><rect x="934" y="384" width="3" height="10" fill="#000"/><rect x="935" y="385" width="1" height="8" fill="#00f400"/>
<rect x="939" y="380" width="1" height="24" fill="#000"/><rect x="938" y="382" width="3" height="16" fill="#000"/><rect x="939" y="383" width="1" height="14" fill="#ff0000"/>
<rect x="943" y="349" width="1" height="57" fill="#000"/><rect x="942" y="361" width="3" height="37" fill="#000"/><rect x="943" y="362" width="1" height="35" fill="#00f400"/>
<rect x="947" y="354" width="1" height="18" fill="#000"/><rect x="946" y="354" width="3" height="12" fill="#000"/><rect x="947" y="355" width="1" height="10" fill="#ff0000"/>
<rect x="951" y="355" width="1" height="19" fill="#000"/><rect x="950" y="364" width="3" height="4" fill="#000"/><rect x="951" y="365" width="1" height="2" fill="#ff0000"/>
<rect x="955" y="354" width="1" height="20" fill="#000"/><rect x="954" y="363" width="3" height="7" fill="#000"/><rect x="955" y="364" width="1" height="5" fill="#00f400"/>
<rect x="959" y="337" width="1" height="26" fill="#000"/><rect x="958" y="352" width="3" height="11" fill="#000"/><rect x="959" y="353" width="1" height="9" fill="#00f400"/>
<rect x="963" y="334" width="1" height="30" fill="#000"/><rect x="962" y="346" width="3" height="7" fill="#000"/><rect x="963" y="347" width="1" height="5" fill="#00f400"/>
<rect x="967" y="315" width="1" height="43" fill="#000"/><rect x="966" y="322" width="3" height="22" fill="#000"/><rect x="967" y="323" width="1" height="20" fill="#00f400"/>
<rect x="971" y="287" width="1" height="37" fill="#000"/><rect x="970" y="309" width="3" height="15" fill="#000"/><rect x="971" y="310" width="1" height="13" fill="#00f400"/>
<rect x="975" y="303" width="1" height="29" fill="#000"/><rect x="974" y="310" width="3" height="5" fill="#000"/><rect x="975" y="311" width="1" height="3" fill="#ff0000"/>
<rect x="979" y="310" width="1" height="30" fill="#000"/><rect x="978" y="316" width="3" height="14" fill="#000"/><rect x="979" y="317" width="1" height="12" fill="#ff0000"/>
<rect x="983" y="331" width="1" height="18" fill="#000"/><rect x="982" y="332" width="3" height="4" fill="#000"/><rect x="983" y="333" width="1" height="2" fill="#ff0000"/>
<rect x="987" y="337" width="1" height="15" fill="#000"/><rect x="986" y="338" width="3" height="8" fill="#000"/><rect x="987" y="339" width="1" height="6" fill="#ff0000"/>
<rect x="991" y="306" width="1" height="42" fill="#000"/><rect x="990" y="327" width="3" height="21" fill="#000"/><rect x="991" y="328" width="1" height="19" fill="#00f400"/>
<rect x="995" y="315" width="1" height="19" fill="#000"/><rect x="994" y="319" width="3" height="9" fill="#000"/><rect x="995" y="320" width="1" height="7" fill="#00f400"/>
<rect x="999" y="310" width="1" height="38" fill="#000"/><rect x="998" y="314" width="3" height="27" fill="#000"/><rect x="999" y="315" width="1" height="25" fill="#ff0000"/>
<rect x="1003" y="330" width="1" height="20" fill="#000"/><rect x="1002" y="337" width="3" height="6" fill="#000"/><rect x="1003" y="338" width="1" height="4" fill="#00f400"/>
<rect x="1007" y="310" width="1" height="28" fill="#000"/><rect x="1006" y="324" width="3" height="9" fill="#000"/><rect x="1007" y="325" width="1" height="7" fill="#00f400"/>
<rect x="1011" y="307" width="1" height="32" fill="#000"/><rect x="1010" y="325" width="3" height="7" fill="#000"/><rect x="1011" y="326" width="1" height="5" fill="#ff0000"/>
<rect x="1015" y="327" width="1" height="12" fill="#000"/><rect x="1014" y="332" width="3" height="4" fill="#000"/><rect x="1015" y="333" width="1" height="2" fill="#ff0000"/>
<rect x="1019" y="324" width="1" height="18" fill="#000"/><rect x="1018" y="330" width="3" height="5" fill="#000"/><rect x="1019" y="331" width="1" height="3" fill="#00f400"/>
<rect x="1023" y="329" width="1" height="20" fill="#000"/><rect x="1022" y="330" width="3" height="15" fill="#000"/><rect x="1023" y="331" width="1" height="13" fill="#ff0000"/>
<rect x="1027" y="343" width="1" height="12" fill="#000"/><rect x="1026" y="347" width="3" height="5" fill="#000"/><rect x="1027" y="348" width="1" height="3" fill="#ff0000"/>
<rect x="1031" y="342" width="1" height="18" fill="#000"/><rect x="1030" y="348" width="3" height="8" fill="#000"/><rect x="1031" y="349" width="1" height="6" fill="#ff0000"/>
<rect x="1035" y="352" width="1" height="12" fill="#000"/><rect x="1034" y="356" width="3" height="6" fill="#000"/><rect x="1035" y="357" width="1" height="4" fill="#ff0000"/>
<rect x="1039" y="362" width="1" height="8" fill="#000"/><rect x="1038" y="363" width="3" height="3" fill="#000"/><rect x="1039" y="364" width="1" height="1" fill="#ff0000"/>
</g>
<polyline points="3.5,82.8 11.7,80.1 23.4,76.4 30.9,74.3 37.2,74.3 43.6,76.9 51.0,80.1 59.6,83.3 67.0,86.3 72.3,86.3 79.8,83.3 87.2,83.3 95.7,84.4 102.0,86.0 126.0,86.0 134.5,85.0 140.9,85.0 144.0,86.0 149.4,91.9 154.7,102.6 160.0,108.9 164.3,117.4 170.4,125.6 180.0,136.3 185.3,139.5 193.8,150.1 203.4,158.1 211.9,165.0 219.4,173.3 227.3,174.4 232.1,169.8 238.5,164.5 240.0,162.8 245.3,155.9 251.7,148.9 258.0,145.2 264.5,143.1 270.9,139.7 287.9,139.4 293.2,135.6 295.3,134.5 303.8,127.6 314.5,121.7 325.0,119.3 341.0,119.0 346.4,117.4 356.4,117.3 360.6,116.3 366.0,114.1 371.3,111.1 376.6,108.3 387.2,105.4 397.9,103.7 408.5,103.0 413.8,101.6 426.6,101.6 435.1,99.2 440.4,96.6 450.0,96.3 456.4,99.2 462.8,100.5 466.4,101.2 472.8,103.3 479.1,107.0 487.7,112.9 496.2,118.7 504.7,124.0 511.0,129.4 515.3,133.6 517.4,136.8 521.7,142.1 526.0,145.3 530.2,148.5 535.5,150.4 543.0,156.0 550.4,162.3 560.0,167.7 567.4,176.2 580.0,184.7 588.2,190.0 592.0,191.6 600.4,200.1 606.8,209.1 613.2,218.7 617.4,227.2 622.8,235.7 628.0,242.1 634.5,249.0 637.7,251.5 642.0,251.5 645.0,250.4 647.2,250.4 651.5,251.7 660.0,254.5 666.4,256.5 671.7,258.3 676.0,258.8 680.0,260.7 690.0,265.5 700.0,271.5 705.1,275.0 714.7,284.0 723.2,292.0 729.6,298.4 734.9,305.9 739.1,308.5 744.5,310.6 750.9,314.4 758.3,317.0 765.7,321.8 776.4,327.1 790.0,333.5 793.2,335.0 803.8,344.6 811.3,349.4 817.7,355.7 822.0,361.6 829.4,369.0 835.7,377.6 842.1,382.3 847.4,385.0 853.8,388.2 859.1,390.3 863.4,390.3 873.0,394.6 881.5,397.2 885.7,401.0 890.0,405.3 898.5,411.2 907.0,417.0 915.5,421.3 926.2,426.6 931.5,426.6 938.9,423.4 947.4,419.7 956.0,414.9 964.5,405.9 968.7,397.3 973.0,391.0 977.6,383.2 982.9,377.3 986.0,372.6 994.6,360.9 1001.0,353.4 1007.3,346.0 1011.6,343.0 1015.9,340.1 1020.0,337.6 1025.4,336.2 1030.7,335.2 1037.0,335.2 1039.8,336.5" fill="none" stroke="#0000ff" stroke-width="1"/>
<polyline points="3.5,82.8 12.8,83.3 19.0,84.4 32.0,84.4 39.4,86.0 46.8,89.7 55.3,91.8 59.6,92.4 74.5,92.4 85.0,90.8 93.6,89.2 102.0,86.5 116.0,86.0 120.0,85.2 125.0,85.5 126.0,83.4 135.5,83.4 138.2,82.1 143.0,82.9 152.6,86.6 161.0,91.9 170.6,98.8 179.1,102.0 195.1,108.4 205.7,111.6 214.0,115.5 219.6,117.2 225.7,120.3 233.2,123.5 239.6,124.8 247.0,125.1 250.6,125.4 261.3,127.6 272.0,130.7 282.6,135.0 293.2,136.9 303.8,137.7 314.5,139.8 325.0,141.4 335.7,143.0 342.0,143.0 349.6,139.8 360.0,136.1 377.1,126.4 387.2,122.6 397.9,120.0 409.6,116.8 419.1,114.3 424.5,113.6 435.1,110.9 443.6,109.7 456.4,108.8 464.9,107.2 470.0,107.2 479.1,107.0 491.9,108.6 502.6,111.8 513.2,115.5 523.8,118.7 532.3,120.6 539.8,120.9 550.4,124.0 566.4,131.5 572.8,134.5 582.8,140.2 597.7,151.9 612.6,164.3 627.4,174.3 642.3,186.0 655.1,195.5 667.9,206.2 680.6,215.7 693.4,225.3 701.9,232.3 714.7,240.2 727.4,248.7 737.0,257.5 754.0,273.4 765.7,279.3 776.4,287.8 782.8,293.1 787.0,296.3 796.6,298.9 811.5,305.3 826.4,314.9 843.4,328.7 849.0,335.0 853.8,339.3 862.3,346.2 870.9,352.6 877.2,356.8 885.7,361.1 894.3,365.9 902.8,369.6 910.0,373.8 915.5,377.1 921.9,381.9 927.2,385.6 934.7,389.9 943.2,393.6 953.8,397.3 964.5,397.3 970.9,394.7 980.4,391.5 991.1,388.3 999.6,386.2 1007.3,385.2 1015.9,382.7 1026.5,379.5 1039.8,376.8" fill="none" stroke="#ff00ff" stroke-width="1"/>
<polyline points="3.5,91.8 11.7,89.7 19.0,87.0 28.7,84.9 36.0,83.3 46.8,81.7 57.4,80.1 69.0,77.5 78.7,74.8 85.0,73.2 95.7,71.6 100.0,71.4 106.0,72.7 110.0,73.3 116.4,73.8 122.8,75.7 137.7,77.6 152.6,81.8 167.4,87.1 178.0,90.9 195.0,94.6 212.0,98.3 230.0,102.6 240.0,104.1 250.6,107.3 261.3,109.5 277.2,111.1 287.9,112.7 295.3,111.1 303.8,110.0 320.0,110.5 335.7,110.5 346.4,111.1 350.0,111.5 357.4,111.5 360.6,112.5 371.3,113.3 384.0,113.6 386.2,114.3 403.2,114.7 405.3,115.7 426.6,116.3 428.7,117.3 460.0,117.4 470.6,117.9 481.3,120.3 491.9,122.4 502.6,124.0 513.2,127.2 521.7,129.4 529.1,130.4 540.9,131.0 555.7,131.0 566.4,131.5 580.0,132.5 591.3,134.5 612.6,138.7 633.8,142.3 655.1,147.7 672.1,152.3 689.1,157.9 706.2,165.7 723.2,173.2 740.2,180.0 753.0,185.5 767.9,192.3 777.4,200.0 782.8,203.0 795.5,211.5 805.1,219.1 822.1,230.9 839.1,244.7 856.2,257.4 873.2,271.3 890.2,283.0 907.2,293.6 924.3,304.3 935.0,313.3 941.4,319.2 947.8,324.0 956.3,328.2 962.7,330.3 971.2,332.1 979.7,335.1 988.2,338.3 994.6,339.4 1001.0,341.0 1009.5,341.5 1018.0,343.1 1024.4,344.8 1030.7,346.8 1037.0,349.1 1039.8,350.4" fill="none" stroke="#ffa200" stroke-width="1"/>
<path class="d" d="M907 14.5H1050"/>
<path class="d" d="M352 133.5H1050"/>
<path class="d" d="M472 229.5H1050"/>
<path class="d" d="M730 454.5H1050"/>
<path d="M1 15.5H5" stroke="#000" stroke-width="1"/>
<rect x="31" y="14" width="1" height="1" fill="#333"/>
<rect x="326.5" y="125.5" width="25" height="13" fill="#fff" stroke="#333" stroke-width="1"/><text class="lb" x="328.9" y="136.1" fill="#111" stroke="#111" stroke-width="0.1" textLength="20.2" lengthAdjust="spacingAndGlyphs" shape-rendering="auto">6,15</text>
<rect x="446.5" y="221.5" width="25" height="13" fill="#fff" stroke="#333" stroke-width="1"/><text class="lb" x="448.9" y="232.1" fill="#111" stroke="#111" stroke-width="0.1" textLength="20.2" lengthAdjust="spacingAndGlyphs" shape-rendering="auto">3,93</text>
<rect x="698.5" y="446.5" width="31" height="13" fill="#fff" stroke="#333" stroke-width="1"/><text class="lb" x="701.0" y="457.1" fill="#111" stroke="#111" stroke-width="0.1" textLength="26" lengthAdjust="spacingAndGlyphs" shape-rendering="auto">1,378</text>
<rect x="762" y="301" width="32" height="14" fill="#ff0000"/>
<rect x="794" y="308" width="256" height="2" fill="#ff0000"/>
<text class="lb" x="765" y="312.1" fill="#fff" textLength="26" lengthAdjust="spacingAndGlyphs" shape-rendering="auto">2,715</text>
<rect x="726" y="376" width="32" height="14" fill="#008000"/>
<rect x="758" y="383" width="285" height="2" fill="#008000"/>
<rect x="1043" y="383" width="85" height="3" fill="#12a540"/>
<text class="lb" x="729" y="387.1" fill="#fff" textLength="26" lengthAdjust="spacingAndGlyphs" shape-rendering="auto">1,912</text>
<g shape-rendering="geometricPrecision">
<line x1="375.5" y1="56.5" x2="1129" y2="345.7" stroke="#f20d26" stroke-width="3.5" stroke-linecap="butt"/>
<line x1="445.7" y1="81" x2="1129" y2="560.4" stroke="#80001a" stroke-width="3.4" stroke-linecap="butt"/>
</g>
<rect x="859" y="374" width="269" height="3" fill="#a23da6"/>
</svg>
</body></html>
